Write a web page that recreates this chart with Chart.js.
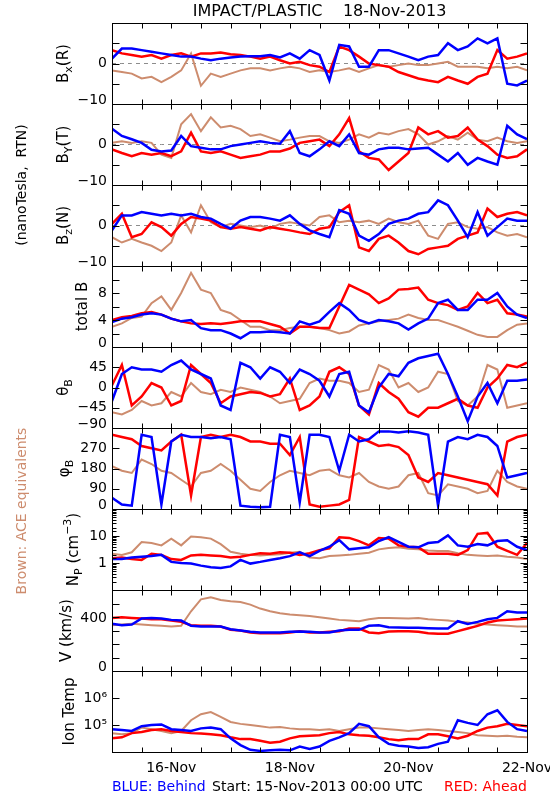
<!DOCTYPE html>
<html lang="en">
<head>
<meta charset="UTF-8" />
<title>IMPACT/PLASTIC 18-Nov-2013</title>
<script src="https://cdn.jsdelivr.net/npm/chart.js"></script>
<style>
  body { margin: 0; background: #fff; }
  canvas { display: block; }
</style>
</head>
<body>

<canvas id="insitu" width="550" height="800"></canvas>

<script>
// hours since 15-Nov-2013 00:00 UTC, one reading every 4 hours
const hours = [0, 4, 8, 12, 16, 20, 24, 28, 32, 36, 40, 44, 48, 52, 56, 60, 64, 68, 72, 76, 80, 84,
               88, 92, 96, 100, 104, 108, 112, 116, 120, 124, 128, 132, 136, 140, 144, 148, 152, 156, 160, 164, 168];
const dayTickHours = [24, 72, 120, 168];
const dayTickLabels = ['16-Nov', '18-Nov', '20-Nov', '22-Nov'];

// Bx (R), nT
const bxBlue = [1.2, 3.7, 3.7, 3.3, 2.9, 2.5, 2.1, 1.7, 1.7, 1.2, 0.8, 1.2, 1.5, 1.7, 1.8, 1.8, 2.1, 1.5, 2.5, 1.2, 3.3, 2.1, -4.2, 4.6, 4.2, -0.8, -0.8, 3.3, 3.3, 2.5, 1.7, 0.8, 1.7, 2.1, 5.0, 3.3, 4.2, 6.2, 5.0, 6.2, -5.0, -5.4, -4.2];
const bxRed  = [3.3, 2.5, 2.1, 1.7, 2.1, 1.2, 2.1, 2.5, 1.7, 2.5, 2.5, 2.7, 2.3, 2.1, 1.7, 1.2, 1.7, 0.8, 0, 0.4, -0.4, -0.8, -2.1, 4.2, 3.3, 1.7, 0, -0.4, -0.8, -2.1, -2.9, -3.7, -4.2, -4.6, -3.3, -4.2, -5.0, -3.3, -2.5, 3.3, 1.2, 1.7, 2.5];
const bxAce  = [-1.7, -2.1, -2.5, -3.7, -3.3, -4.6, -3.3, -1.7, 2.5, -5.5, -2.5, -3.3, -2.5, -1.7, -1.2, -1.2, -1.7, -1.2, -0.8, -1.2, -2.1, -1.7, -2.1, -1.7, -1.2, -2.1, -1.2, -0.4, -0.8, -0.4, 0, -0.4, -0.4, 0, 0.4, -0.8, -0.8, -0.8, -1.2, -0.8, -1.2, -0.8, -1.7];

// By (T), nT
const byBlue = [3.9, 2.1, 1.3, 0.4, -1.3, -1.7, -1.5, 2.1, -0.4, -0.8, -1.2, -1.2, -0.4, 0, 0.4, 0.8, 0.4, 0.2, 3.3, -2.1, -2.9, -1.2, 0.8, -0.4, 2.5, -2.1, -2.5, -1.2, -0.8, -0.8, -1.2, -1.0, -0.8, -2.5, -4.2, -2.1, -5.0, -3.3, -4.2, -5.0, 4.6, 2.5, 1.3];
const byRed  = [-1.2, -2.1, -2.9, -2.1, -2.5, -2.1, -2.9, -1.7, 2.9, -1.7, -2.1, -1.7, -2.5, -3.3, -2.9, -2.5, -1.7, -1.7, -1.0, 0.4, 0.8, 1.2, -0.4, 2.5, 6.5, -1.7, -3.3, -3.7, -6.3, -4.2, -2.1, 4.2, 2.5, 3.3, 1.7, 2.1, 4.2, 1.2, -0.4, -2.5, -3.3, -2.9, -1.2];
const byAce  = [0.4, 0.8, 0.4, 0.8, 0.4, -2.5, -3.3, 5.0, 7.5, 3.3, 6.7, 4.2, 4.6, 3.8, 2.1, 2.5, 1.7, 0.8, 1.2, 1.7, 2.1, 2.1, 0.8, 0.4, 1.2, 2.5, 1.7, 2.9, 2.5, 3.3, 3.8, 2.5, 0, 0.8, 2.1, 1.2, 2.9, 1.2, 0.8, 1.7, 0.8, 0.4, 0.8];

// Bz (N), nT
const bzBlue = [-1.2, 2.5, 2.5, 3.3, 2.9, 2.5, 2.9, 2.5, 2.9, 2.1, 1.7, 0.4, -0.8, 1.2, 2.1, 2.1, 1.7, 1.2, 2.5, 0.4, -1.2, -2.1, -2.9, 3.8, 2.9, -2.5, -3.8, -2.1, 0.4, 1.2, 1.7, 2.9, 3.3, 6.2, 5.0, 1.2, -2.9, 3.3, -2.5, -0.4, 1.7, 1.2, 1.2];
const bzRed  = [0.4, 2.9, -2.9, -2.1, 0.8, -0.4, -2.5, 0.4, 2.1, 1.7, 1.2, -0.4, -0.8, -0.4, -0.8, -1.2, -0.4, -0.8, -1.2, -1.7, -2.1, -0.8, -0.4, 3.3, 5.0, -5.4, -6.3, -3.3, -2.5, -4.2, -6.3, -7.1, -5.8, -5.4, -5.0, -3.3, -2.5, -1.7, 4.2, 2.1, 2.9, 3.3, 2.5];
const bzAce  = [-2.9, -4.2, -3.3, -4.2, -5.0, -6.3, -4.2, 2.5, -1.7, 5.0, 0.8, -0.4, 0.4, 0, -0.4, 0, -0.8, 0.4, 0.8, 0.4, 0, 2.1, 2.5, 0.8, 1.2, 0.8, 1.2, 0.4, 1.7, 0.8, 0.4, 1.2, -2.5, -3.3, 0.4, 0.8, -0.4, -0.8, -0.4, -1.7, -2.5, -2.1, -2.9];

// total B, nT
const btBlue = [3.7, 4.2, 4.4, 4.8, 5.0, 4.8, 4.2, 3.8, 4.0, 2.8, 2.5, 2.5, 2.0, 1.3, 2.2, 2.2, 2.3, 2.2, 2.0, 3.8, 3.3, 3.8, 5.2, 6.5, 5.5, 4.0, 3.5, 4.0, 3.8, 3.5, 2.6, 3.5, 4.2, 6.5, 7.0, 5.5, 5.5, 7.0, 7.0, 8.0, 6.0, 4.8, 4.3];
const btRed  = [4.0, 4.4, 4.6, 5.0, 5.2, 4.8, 4.2, 3.8, 3.5, 3.4, 3.5, 3.4, 3.6, 3.8, 3.8, 3.8, 3.4, 3.0, 2.0, 3.0, 3.0, 2.8, 2.8, 6.0, 9.2, 8.5, 7.8, 6.5, 7.2, 8.5, 8.6, 8.8, 7.0, 6.5, 6.2, 5.5, 6.0, 8.0, 6.5, 7.0, 5.0, 4.8, 4.5];
const btAce  = [3.0, 3.5, 4.3, 4.5, 6.5, 7.5, 5.5, 8.0, 11.0, 8.5, 8.0, 5.5, 5.0, 4.0, 3.0, 3.0, 2.5, 2.5, 2.8, 3.0, 3.0, 2.8, 2.5, 2.0, 2.3, 3.2, 3.5, 3.8, 4.0, 4.2, 4.8, 4.3, 4.0, 4.0, 3.5, 3.0, 2.4, 1.8, 1.5, 1.5, 2.5, 3.3, 3.5];

// theta B, degrees
const thBlue = [-30, 30, 45, 40, 40, 35, 50, 60, 40, 30, 20, -40, -50, 55, 45, 20, 45, 35, 10, 40, 30, 15, -20, 30, 35, -40, -55, 0, 30, 25, 55, 65, 70, 75, 30, -20, -75, -20, 10, -35, 15, 15, 18];
const thRed  = [5, 50, -40, -20, 10, 0, -40, -30, 50, 30, 10, -35, -20, -15, -10, -12, -20, -15, 20, -50, -40, -20, 35, 45, 30, -40, -60, 10, -10, -25, -55, -65, -45, -45, -35, -25, -40, -45, 0, 20, 50, 45, 55];
const thAce  = [-55, -60, -50, -30, -40, -35, -10, -20, 10, -10, -15, -5, -10, 0, -5, -10, -20, -35, -30, -25, 10, 20, 15, 15, 10, -10, -5, 50, 40, 0, 10, -10, 0, 35, 30, -30, -40, -20, 50, 40, -45, -40, -35];

// phi B, degrees
const phBlue = [50, 20, 15, 330, 320, 20, 300, 330, 320, 320, 315, 320, 310, 15, 10, 8, 10, 330, 320, 30, 330, 330, 320, 170, 330, 300, 310, 345, 345, 340, 345, 340, 330, 15, 300, 320, 310, 330, 320, 280, 140, 150, 160];
const phRed  = [330, 320, 310, 280, 270, 260, 300, 330, 60, 320, 330, 320, 330, 320, 300, 300, 290, 290, 240, 320, 20, 10, 15, 20, 40, 320, 300, 280, 285, 275, 240, 140, 120, 160, 150, 140, 130, 120, 110, 60, 300, 320, 330];
const phAce  = [190, 170, 160, 220, 200, 170, 160, 130, 100, 160, 170, 200, 170, 130, 90, 80, 120, 150, 170, 160, 150, 170, 175, 150, 140, 160, 120, 100, 90, 100, 150, 160, 70, 60, 110, 100, 90, 70, 80, 170, 120, 100, 90];

// proton density, cm^-3
const npBlue = [1.4, 1.4, 1.6, 1.7, 1.8, 2.0, 1.1, 1.0, 0.95, 0.8, 0.7, 0.65, 0.75, 1.3, 0.95, 1.1, 1.3, 1.5, 1.8, 2.5, 1.8, 2.8, 4.0, 7.0, 3.2, 3.5, 3.8, 6.5, 9.0, 6.0, 4.0, 3.8, 5.5, 6.0, 10.5, 4.5, 4.0, 5.0, 4.5, 6.5, 7.0, 4.0, 3.0];
const npRed  = [1.5, 1.6, 1.4, 1.3, 2.2, 2.0, 1.4, 1.3, 1.9, 2.0, 1.9, 1.8, 1.6, 1.7, 2.0, 2.3, 2.2, 2.5, 2.4, 2.0, 2.3, 3.0, 3.5, 9.0, 8.5, 6.5, 4.5, 8.5, 8.0, 4.5, 4.0, 3.8, 2.2, 2.2, 2.2, 2.0, 3.0, 12.0, 13.0, 4.0, 2.8, 2.0, 5.5];
const npAce  = [2.2, 2.0, 2.5, 6.0, 5.5, 4.5, 8.0, 4.5, 9.5, 9.0, 8.0, 5.0, 2.6, 2.2, 2.0, 1.9, 2.0, 2.1, 2.4, 2.6, 1.6, 1.5, 1.8, 1.9, 2.0, 2.2, 2.4, 3.2, 3.6, 3.8, 3.4, 3.2, 2.9, 2.8, 2.8, 2.3, 2.0, 1.9, 1.8, 1.9, 1.7, 1.6, 1.4];

// bulk speed, km/s
const vBlue = [355, 345, 350, 395, 400, 395, 385, 380, 340, 335, 335, 335, 315, 305, 295, 290, 290, 290, 295, 298, 295, 290, 290, 305, 310, 310, 340, 345, 330, 328, 325, 325, 322, 320, 320, 375, 355, 370, 390, 400, 450, 440, 440];
const vRed  = [400, 405, 400, 395, 390, 390, 380, 370, 345, 340, 340, 335, 310, 305, 290, 285, 285, 285, 290, 300, 290, 290, 295, 300, 320, 320, 290, 285, 298, 300, 300, 295, 285, 280, 280, 300, 320, 340, 365, 380, 385, 390, 395];
const vAce  = [345, 350, 355, 350, 345, 340, 335, 340, 450, 540, 555, 535, 525, 520, 500, 470, 450, 435, 425, 420, 415, 405, 395, 385, 380, 375, 390, 400, 400, 398, 395, 400, 390, 385, 380, 370, 365, 355, 350, 345, 340, 335, 335];

// ion temperature, K
const tBlue = [7e4, 6.5e4, 6e4, 9e4, 1e5, 1.05e5, 7e4, 6.5e4, 6e4, 7.5e4, 8e4, 7e4, 3.2e4, 1.8e4, 1.2e4, 1.1e4, 1.15e4, 1.2e4, 1.15e4, 1.6e4, 1.3e4, 1.6e4, 2.6e4, 3.5e4, 5e4, 1.1e5, 9e4, 3.5e4, 2e4, 1.7e4, 1.6e4, 1.4e4, 1.5e4, 2e4, 2.4e4, 1.5e5, 1.2e5, 1e5, 2.5e5, 3.5e5, 1.3e5, 7e4, 6e4];
const tRed  = [3.2e4, 3.5e4, 5e4, 5.5e4, 6.5e4, 7e4, 6e4, 5.5e4, 5e4, 4.8e4, 4.5e4, 4.2e4, 3.5e4, 3e4, 3e4, 2.6e4, 2.2e4, 2.4e4, 3.2e4, 3.8e4, 4e4, 4.2e4, 5e4, 5.5e4, 4.5e4, 4.2e4, 4e4, 3.5e4, 3e4, 2.7e4, 3e4, 3e4, 4.5e4, 4.5e4, 3.8e4, 3.2e4, 4e4, 6e4, 8e4, 9e4, 1.1e5, 1e5, 9e4];
const tAce  = [5e4, 4.5e4, 5e4, 8e4, 7e4, 6e4, 5e4, 6e4, 1.5e5, 2.5e5, 3e5, 2e5, 1.3e5, 1.1e5, 1e5, 9e4, 8e4, 8.5e4, 7.5e4, 7e4, 7e4, 6.5e4, 7e4, 6e4, 7e4, 8e4, 8e4, 7.5e4, 7e4, 6.5e4, 6e4, 6.5e4, 7e4, 6.5e4, 6e4, 5.5e4, 5e4, 4.2e4, 4e4, 3.8e4, 4e4, 3.7e4, 3.5e4];

// tick labels shown on each panel
const bxLabels = [0, -10];
const byLabels = [0, -10];
const bzLabels = [0, -10];
const btLabels = [8, 4, 0];
const thLabels = [45, 0, -45, -90];
const phLabels = [270, 180, 90, 0];
const npLabels = [10, 1];
const vLabels = [400, 0];
const tLabels = [1e6, 1e5];

const BLUE = '#0000ff', RED = '#ff0000', BROWN = 'rgb(205,140,110)';
const FONT = '"DejaVu Sans"';

const panels = [
  { id: 'yBx', title: [['B'], ['x', 'sub'], ['(R)']], tx: 64, min: -10, max: 10, step: 5, labels: bxLabels, zero: true, blue: bxBlue, red: bxRed, ace: bxAce },
  { id: 'yBy', title: [['B'], ['Y', 'sub'], ['(T)']], tx: 64, min: -10, max: 10, step: 5, labels: byLabels, zero: true, blue: byBlue, red: byRed, ace: byAce },
  { id: 'yBz', title: [['B'], ['z', 'sub'], ['(N)']], tx: 64, min: -10, max: 10, step: 5, labels: bzLabels, zero: true, blue: bzBlue, red: bzRed, ace: bzAce },
  { id: 'yBt', title: [['total B']], tx: 83, min: 0, max: 12, step: 2, labels: btLabels, blue: btBlue, red: btRed, ace: btAce },
  { id: 'yTh', title: [['θ'], ['B', 'sub']], tx: 64, min: -90, max: 90, step: 45, labels: thLabels, blue: thBlue, red: thRed, ace: thAce },
  { id: 'yPh', title: [['φ'], ['B', 'sub']], tx: 65, min: 0, max: 360, step: 90, labels: phLabels, blue: phBlue, red: phRed, ace: phAce },
  { id: 'yNp', title: [['N'], ['P', 'sub'], [' (cm'], ['−3', 'sup'], [')']], tx: 74, log: true, min: 0.1, max: 100, labels: npLabels, blue: npBlue, red: npRed, ace: npAce },
  { id: 'yV', title: [['V (km/s)']], tx: 67, min: 0, max: 610, step: 100, labels: vLabels, blue: vBlue, red: vRed, ace: vAce },
  { id: 'yT', title: [['Ion Temp']], tx: 70, log: true, majorOnly: true, min: 1e4, max: 1e7, labels: tLabels, blue: tBlue, red: tRed, ace: tAce }
];

const SUP = { 4: '⁴', 5: '⁵', 6: '⁶', 7: '⁷' };
function tickText(p, v) {
  if (p.id === 'yT') return '10' + SUP[Math.round(Math.log10(v))];
  return String(v).replace('-', '−');
}
function isDecade(v) {
  const e = Math.log10(v);
  return Math.abs(e - Math.round(e)) < 1e-6;
}

function drawRotated(ctx, parts, x, y, size, color) {
  ctx.save();
  ctx.translate(x, y);
  ctx.rotate(-Math.PI / 2);
  ctx.fillStyle = color;
  ctx.textBaseline = 'middle';
  ctx.textAlign = 'left';
  const fontOf = m => (m ? Math.round(size * 0.7) : size) + 'px ' + FONT;
  let w = 0;
  parts.forEach(([t, m]) => { ctx.font = fontOf(m); w += ctx.measureText(t).width; });
  let u = -w / 2;
  parts.forEach(([t, m]) => {
    ctx.font = fontOf(m);
    const v = m === 'sub' ? size * 0.35 : m === 'sup' ? -size * 0.4 : 0;
    ctx.fillText(t, u, v);
    u += ctx.measureText(t).width;
  });
  ctx.restore();
}

// frames, inward ticks, tick labels and all the free text
const frames = {
  id: 'frames',
  afterDatasetsDraw(chart) {
    const ctx = chart.ctx, area = chart.chartArea, xs = chart.scales.x;
    const L = Math.round(area.left) + 0.5, R = Math.round(area.right) + 0.5;
    ctx.save();
    ctx.strokeStyle = '#000';
    ctx.lineWidth = 1;
    panels.forEach(p => {
      const s = chart.scales[p.id];
      const top = Math.round(s.top) + 0.5, bot = Math.round(s.bottom) + 0.5;
      ctx.strokeRect(L, top, R - L, bot - top);
      ctx.beginPath();
      s.ticks.forEach(t => {
        if (t.value <= s.min || t.value >= s.max) return;
        const major = !p.log || isDecade(t.value);
        if (p.majorOnly && !major) return;
        const len = major ? 7 : 4;
        const y = Math.round(s.getPixelForValue(t.value)) + 0.5;
        ctx.moveTo(L, y); ctx.lineTo(L + len, y);
        ctx.moveTo(R, y); ctx.lineTo(R - len, y);
      });
      xs.ticks.forEach(t => {
        if (t.value <= xs.min || t.value >= xs.max) return;
        const x = Math.round(xs.getPixelForValue(t.value)) + 0.5;
        ctx.moveTo(x, top); ctx.lineTo(x, top + 5);
        ctx.moveTo(x, bot); ctx.lineTo(x, bot - 5);
      });
      ctx.stroke();

      ctx.fillStyle = '#000';
      ctx.font = '14px ' + FONT;
      ctx.textAlign = 'right';
      ctx.textBaseline = 'middle';
      p.labels.forEach(v => {
        const y = Math.min(s.getPixelForValue(v), s.bottom - 4);
        ctx.fillText(tickText(p, v), area.left - 5, y);
      });
      drawRotated(ctx, p.title, p.tx, (s.top + s.bottom) / 2, 15, '#000');
    });

    drawRotated(ctx, [['(nanoTesla,  RTN)']], 22, 185, 14, '#000');
    drawRotated(ctx, [['Brown: ACE equivalents']], 22, 511, 14, BROWN);

    ctx.fillStyle = '#000';
    ctx.font = '16px ' + FONT;
    ctx.textAlign = 'center';
    ctx.textBaseline = 'middle';
    ctx.fillText('IMPACT/PLASTIC    18-Nov-2013', (area.left + area.right) / 2, 12);

    ctx.font = '14px ' + FONT;
    ctx.textAlign = 'left';
    ctx.fillStyle = BLUE;
    ctx.fillText('BLUE: Behind', area.left, 787);
    ctx.fillStyle = '#000';
    ctx.fillText('Start: 15-Nov-2013 00:00 UTC', 212, 787);
    ctx.textAlign = 'right';
    ctx.fillStyle = RED;
    ctx.fillText('RED: Ahead', area.right, 787);
    ctx.restore();
  }
};

function series(data, color, axis, width) {
  return { data: data, borderColor: color, borderWidth: width, pointRadius: 0, tension: 0, yAxisID: axis };
}

const datasets = [];
panels.forEach(p => {
  datasets.push(series(p.blue, BLUE, p.id, 2.5), series(p.red, RED, p.id, 2.5), series(p.ace, BROWN, p.id, 2));
});
panels.filter(p => p.zero).forEach(p => {
  datasets.push({ data: hours.map(() => 0), borderColor: '#8c8c8c', borderWidth: 1, borderDash: [4, 4],
                  pointRadius: 0, yAxisID: p.id });
});

const scales = {
  x: {
    type: 'linear', position: 'bottom', min: 0, max: 168,
    grid: { display: false, drawTicks: false },
    border: { display: false },
    ticks: {
      stepSize: 12, autoSkip: false, maxRotation: 0, padding: 8, color: '#000',
      font: { family: 'DejaVu Sans', size: 14 },
      callback: v => { const i = dayTickHours.indexOf(v); return i < 0 ? '' : dayTickLabels[i]; }
    },
    afterFit: s => { s.height = 26; s.paddingLeft = 0; s.paddingRight = 0; }
  }
};
panels.forEach((p, i) => {
  scales[p.id] = {
    type: p.log ? 'logarithmic' : 'linear',
    position: 'left', stack: 'panels', stackWeight: 1, weight: panels.length - i,
    min: p.min, max: p.max,
    grid: { display: false, drawTicks: false },
    border: { display: false },
    ticks: { display: false, autoSkip: false, stepSize: p.step },
    afterFit: s => { s.width = 112; s.paddingTop = 0; s.paddingBottom = 0; }
  };
});

new Chart(document.getElementById('insitu'), {
  type: 'line',
  data: { labels: hours, datasets: datasets },
  options: {
    responsive: false,
    animation: false,
    events: [],
    layout: { padding: { top: 23, right: 23, bottom: 22, left: 0 } },
    plugins: { legend: { display: false }, tooltip: { enabled: false } },
    scales: scales
  },
  plugins: [frames]
});
</script>

</body>
</html>
